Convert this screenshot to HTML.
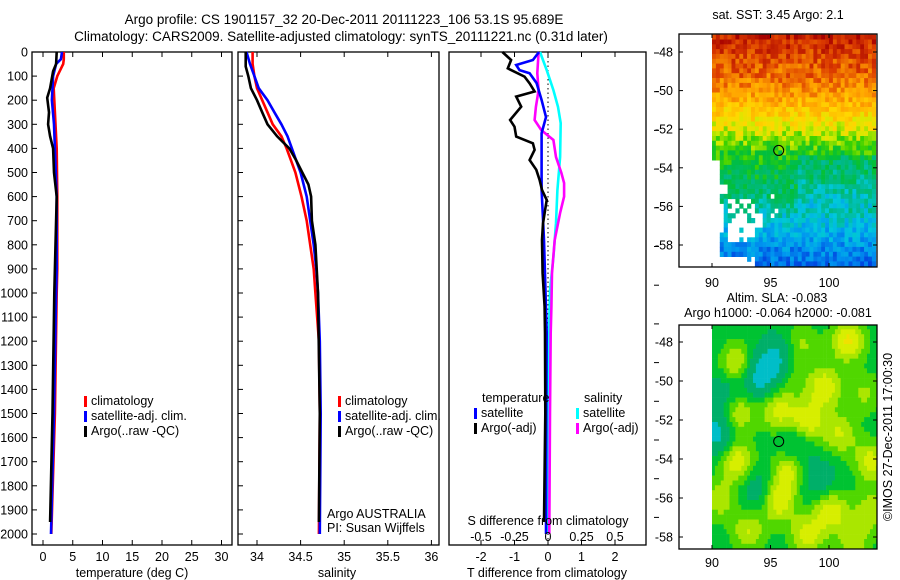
<!DOCTYPE html>
<html><head><meta charset="utf-8">
<style>
html,body{margin:0;padding:0;background:#fff;}
svg{display:block;font-family:"Liberation Sans",sans-serif;}
text{font-size:12.5px;fill:#000;}
</style></head>
<body>
<svg id="fig" width="900" height="580" viewBox="0 0 900 580">
<defs>
<clipPath id="clipA"><rect x="679" y="34" width="198" height="233"/></clipPath>
<clipPath id="clipB"><rect x="679" y="325" width="198" height="224"/></clipPath>
</defs>
<text x="344" y="24" text-anchor="middle" style="font-size:13.5px">Argo profile: CS 1901157_32 20-Dec-2011 20111223_106 53.1S 95.689E</text>
<text x="341" y="41" text-anchor="middle" style="font-size:13.5px">Climatology: CARS2009. Satellite-adjusted climatology: synTS_20111221.nc (0.31d later)</text>
<g id="g"></g>
</svg>
<script>
// ---------- data ----------
const tDepth  = [0,30,50,100,150,200,300,400,600,900,1000,1500,2000];
const tClim   = [3.5,3.5,3.4,2.4,1.8,1.9,2.1,2.3,2.4,2.4,2.3,2.0,1.4];
const tSat    = [3.2,3.0,2.2,1.7,1.6,1.5,1.85,2.0,2.3,2.3,2.2,1.85,1.35];
const argoTDepth = [0,50,80,150,190,250,300,350,400,500,600,1000,1500,1950];
const argoT      = [2.3,2.2,1.7,1.2,0.7,1.0,0.85,1.2,1.7,1.85,2.3,1.9,1.6,1.2];

const sDepth = [0,50,100,150,200,250,300,350,400,450,500,600,700,800,900,1000,1200,1500,2000];
const sClim  = [33.95,33.95,33.97,34.0,34.06,34.12,34.18,34.28,34.34,34.39,34.44,34.51,34.57,34.61,34.65,34.67,34.71,34.72,34.71];
const sSat   = [33.88,33.92,33.97,34.02,34.12,34.2,34.28,34.35,34.4,34.45,34.5,34.57,34.61,34.65,34.68,34.7,34.72,34.73,34.72];
const argoSDepth = [0,60,100,150,200,250,300,350,400,450,500,550,600,700,800,1000,1500,1950];
const argoS      = [33.87,33.87,33.9,33.93,34.0,34.06,34.12,34.23,34.37,34.45,34.52,34.59,34.62,34.63,34.67,34.7,34.72,34.71];

const dTSatDepth = [0,33,54,75,88,129,199,270,337,573,780,1166,1500,2000];
const dTSat      = [-0.27,-0.45,-0.95,-0.85,-0.55,-0.34,-0.19,-0.06,-0.19,-0.19,-0.12,-0.04,-0.05,-0.06];
const dTArgoDepth = [0,33,68,102,130,164,185,227,282,310,351,379,406,448,489,531,572,614,711,780,918,1057,1167,1500,1950];
const dTArgo      = [-1.36,-1.1,-1.2,-0.7,-0.55,-0.4,-0.95,-0.8,-1.13,-1.0,-0.95,-0.45,-0.4,-0.55,-0.35,-0.25,-0.18,-0.04,-0.15,-0.18,-0.16,-0.1,-0.09,-0.08,-0.12];
const dSSatDepth = [0,75,158,228,295,436,573,710,851,988,1200,2000];
const dSSat      = [-0.06,-0.01,0.04,0.075,0.095,0.09,0.07,0.06,0.04,0.015,0.005,0.0];
const dSArgoDepth = [0,88,158,228,282,324,365,436,502,544,600,668,780,917,1058,1166,1500,2000];
const dSArgo      = [-0.07,-0.08,-0.07,-0.09,-0.1,-0.05,0.04,0.06,0.1,0.12,0.12,0.09,0.05,0.03,0.025,0.02,0.015,0.01];

const depthTicks = [0,100,200,300,400,500,600,700,800,900,1000,1100,1200,1300,1400,1500,1600,1700,1800,1900,2000];
const tempTicks = [0,5,10,15,20,25,30];
const salTicks = ["34","34.5","35","35.5","36"];
const dTTicks = [-2,-1,0,1,2];
const dSTicks = ["-0.5","-0.25","0","0.25","0.5"];
const lonTicks = [90,95,100];
const latTicks = [-48,-50,-52,-54,-56,-58];
const sstByLat = [0.95,0.9,0.86,0.8,0.72,0.64,0.55,0.5,0.46,0.4,0.33,0.27,0.22];
const slaBlobs = [[101.5,-47.8,1],[92,-49,0.8],[99.5,-50.2,0.9],[92,-51.5,0.8],[95.5,-51.4,0.8],[98,-52,0.9],[100.8,-52.6,0.7],[92,-54,0.9],[96.5,-54.3,0.9],[103.5,-54,0.8],[95.5,-56,1],[100,-56.5,0.9],[93,-57.6,0.7],[98,-57.8,0.8],[102,-58,0.6],[103,-50.5,0.5],[90.5,-56,0.6],[103.5,-56.5,0.6],[96.5,-49.5,0.4],[97.5,-48,0.5],
  [94,-49.6,-0.9],[95.5,-48.8,-0.8],[90.3,-52.5,-0.9],[91,-50.5,-0.5],[97,-53.3,-0.6],[99,-55,-0.5],[94,-55.5,-0.5]];

// ---------- helpers ----------
const NS="http://www.w3.org/2000/svg";
const G=document.getElementById('g');
function mk(tag,attrs,parent){const e=document.createElementNS(NS,tag);for(const k in attrs)e.setAttribute(k,attrs[k]);(parent||G).appendChild(e);return e;}
function txt(x,y,s,anchor,parent){const e=mk('text',{x:x,y:y,'text-anchor':anchor||'middle'},parent);e.textContent=s;return e;}

const Y0=52, PY=0.241, YB=545;
const yD = d => Y0 + d*PY;
const xT = t => 43 + t*5.95;
const xS = s => 257 + (s-34)*87.2;
const xDT = v => 548 + v*33.5;
const xDS = v => 548 + v*134;

function frame(x0,x1,name){
  const r=mk('rect',{x:x0,y:Y0,width:x1-x0,height:YB-Y0,fill:'none',stroke:'#000','stroke-width':1.3});
  
  
}
function profile(depths,vals,xf,color,name){
  let d='';
  for(let i=0;i<depths.length;i++){d+=(i?'L':'M')+xf(vals[i]).toFixed(1)+' '+yD(depths[i]).toFixed(1);}
  const p=mk('path',{d:d,fill:'none',stroke:color,'stroke-width':2.6,'stroke-linejoin':'miter'});
  
  
}
function legendRow(x,y,color,label,name){
  const r=mk('rect',{x:x,y:y-9,width:3,height:11,fill:color});
  
  
  const t=txt(x+7,y,label,'start');
  
  
}

// ---------- temperature panel ----------
frame(32,232,'temperature-panel');
depthTicks.forEach(d=>{
  mk('line',{x1:32,x2:37,y1:yD(d),y2:yD(d),stroke:'#000'});
  const t=txt(28,yD(d)+4.5,String(d),'end');
  
  
});
tempTicks.forEach(v=>{
  mk('line',{x1:xT(v),x2:xT(v),y1:YB,y2:YB-5,stroke:'#000'});
  mk('line',{x1:xT(v),x2:xT(v),y1:Y0,y2:Y0+5,stroke:'#000'});
  const t=txt(xT(v),561,String(v));
  
  
});
profile(tDepth,tClim,xT,'#f00','temp-climatology-line');
profile(tDepth,tSat,xT,'#00f','temp-satellite-line');
profile(argoTDepth,argoT,xT,'#000','temp-argo-line');
{const t=txt(132,577,'temperature (deg C)');}
legendRow(84,405,'#f00','climatology','legend-climatology');
legendRow(84,420,'#00f','satellite-adj. clim.','legend-satellite-adj');
legendRow(84,435,'#000','Argo(..raw -QC)','legend-argo');

// ---------- salinity panel ----------
frame(238,439,'salinity-panel');
depthTicks.forEach(d=>{mk('line',{x1:238,x2:243,y1:yD(d),y2:yD(d),stroke:'#000'});});
salTicks.forEach(v=>{
  const x=xS(parseFloat(v));
  mk('line',{x1:x,x2:x,y1:YB,y2:YB-5,stroke:'#000'});
  mk('line',{x1:x,x2:x,y1:Y0,y2:Y0+5,stroke:'#000'});
  const t=txt(x,561,v);
  
  
});
profile(sDepth,sClim,xS,'#f00','sal-climatology-line');
profile(sDepth,sSat,xS,'#00f','sal-satellite-line');
profile(argoSDepth,argoS,xS,'#000','sal-argo-line');
{const t=txt(337,577,'salinity');}
legendRow(338,405,'#f00','climatology','legend-sal-climatology');
legendRow(338,420,'#00f','satellite-adj. clim.','legend-sal-satellite-adj');
legendRow(338,435,'#000','Argo(..raw -QC)','legend-sal-argo');
{const t=txt(327,518,'Argo AUSTRALIA','start');}
{const t=txt(327,532,'PI: Susan Wijffels','start');}

// ---------- difference panel ----------
frame(449,646,'difference-panel');
mk('line',{x1:548,x2:548,y1:Y0,y2:YB,stroke:'#000','stroke-dasharray':'1.5 3','stroke-width':1});
dTTicks.forEach(v=>{
  mk('line',{x1:xDT(v),x2:xDT(v),y1:YB,y2:YB-5,stroke:'#000'});
  mk('line',{x1:xDT(v),x2:xDT(v),y1:Y0,y2:Y0+5,stroke:'#000'});
  const t=txt(xDT(v),561,String(v));
  
  
});
for(let k=0;k<13;k++){const y=53+k*38.7;if(y>YB)break;mk('line',{x1:654,x2:659,y1:y,y2:y,stroke:'#000'});}
profile(dSSatDepth,dSSat,xDS,'#0ff','s-diff-satellite-line');
profile(dSArgoDepth,dSArgo,xDS,'#f0f','s-diff-argo-line');
profile(dTSatDepth,dTSat,xDT,'#00f','t-diff-satellite-line');
profile(dTArgoDepth,dTArgo,xDT,'#000','t-diff-argo-line');
{const t=txt(547,577,'T difference from climatology');}
{const t=txt(548,525,'S difference from climatology');}
dSTicks.forEach(v=>{
  const t=txt(xDS(parseFloat(v)),541,v);
  
  
});
{const t=txt(482,402,'temperature','start');}
{const t=txt(584,402,'salinity','start');}
legendRow(474,417,'#00f','satellite','legend-t-satellite');
legendRow(474,432,'#000','Argo(-adj)','legend-t-argo');
legendRow(576,417,'#0ff','satellite','legend-s-satellite');
legendRow(576,432,'#f0f','Argo(-adj)','legend-s-argo');

// ---------- maps ----------
function hash(i,j){let h=(i*374761393+j*668265263)|0;h=(h^(h>>>13))*1274126177|0;return ((h^(h>>>16))>>>0)/4294967296;}
const stops=[[0,[0,0,130]],[0.15,[0,50,220]],[0.28,[0,150,240]],[0.36,[0,200,220]],[0.42,[0,185,140]],[0.5,[0,190,60]],[0.57,[60,210,0]],[0.63,[210,235,0]],[0.7,[255,215,0]],[0.8,[255,160,0]],[0.9,[220,60,0]],[1,[165,0,0]]];
function cmap(v){v=Math.max(0,Math.min(1,v));for(let i=1;i<stops.length;i++){if(v<=stops[i][0]){const a=stops[i-1],b=stops[i],f=(v-a[0])/(b[0]-a[0]);return 'rgb('+a[1].map((c,k)=>Math.round(c+(b[1][k]-c)*f)).join(',')+')';}}return 'rgb(165,0,0)';}

function mapAxes(x0,x1,y0,y1,lonF,latF,name,labelY){
  const r=mk('rect',{x:x0,y:y0,width:x1-x0,height:y1-y0,fill:'none',stroke:'#000','stroke-width':1.3});
  
  
  lonTicks.forEach(v=>{
    mk('line',{x1:lonF(v),x2:lonF(v),y1:y0,y2:y0+4,stroke:'#000'});
    mk('line',{x1:lonF(v),x2:lonF(v),y1:y1,y2:y1-4,stroke:'#000'});
    const t=txt(lonF(v),labelY,String(v));
    
    
  });
  latTicks.forEach(v=>{
    mk('line',{x1:x0,x2:x0+4,y1:latF(v),y2:latF(v),stroke:'#000'});
    mk('line',{x1:x1,x2:x1-4,y1:latF(v),y2:latF(v),stroke:'#000'});
    const t=txt(x0-6,latF(v)+4.5,String(v),'end');
    
    
  });
}
const lon = v => 712 + (v-90)*11.7;
// SST map
const latA = v => 52 + (-48-v)*19.3;
{
  const grp=mk('g',{'clip-path':'url(#clipA)'});
  
  
  for(let i=0;i<42;i++){
    const lo=90+i/3;
    for(let j=0;j<49;j++){
      const la=-47.1-j*0.25;
      const h=hash(i,j);
      if(la<-53.5 && lo<90.6) continue;
      if(la<-54.6 && la>-55.3 && lo<91.3) continue;
      if(la<-55.8 && la>-57.2 && lo<91) continue;
      if(la<-55.5 && la>-57.8 && lo>91.2 && lo<93.4 && h<0.75) continue;
      if(la<-56.2 && la>-57 && lo>93.4 && lo<94.2) continue;
      if(la<-55.2 && la>-56.6 && lo>94.8 && lo<96 && h<0.5) continue;
      if(la<-58.4 && lo<93.6 && h<0.85) continue;
      const idx=Math.min(12,Math.max(0,(-47-la)));
      const k=Math.floor(idx),f=idx-k;
      let v=sstByLat[k]+(sstByLat[Math.min(12,k+1)]-sstByLat[k])*f;
      if(la<-53.3 && la>-56 && lo>97) v-=0.05;
      v+= (h-0.5)*0.12;
      mk('rect',{x:lon(lo).toFixed(1),y:latA(la).toFixed(1),width:4.2,height:5.2,fill:cmap(v)},grp);
    }
  }
}
mapAxes(679,877,34,267,lon,latA,'sst-map-frame',287);
{const c=mk('circle',{cx:lon(95.7),cy:latA(-53.1),r:5,fill:'none',stroke:'#000','stroke-width':1});}
{const t=txt(778,19,'sat. SST: 3.45 Argo: 2.1');}

// SLA map
const latB = v => 342 + (-48-v)*19.5;
{
  const grp=mk('g',{'clip-path':'url(#clipB)'});
  
  
  for(let i=0;i<57;i++){
    const lo=90+i*0.25;
    for(let j=0;j<50;j++){
      const la=-47.1-j*0.25;
      let s=0;
      slaBlobs.forEach(b=>{const dx=(lo-b[0])/1.5,dy=(la-b[1])/1.1;s+=b[2]*Math.exp(-(dx*dx+dy*dy));});
      let col;
      if(s<-0.6) col='rgb(0,190,200)';
      else if(s<-0.1) col='rgb(0,175,105)';
      else if(s<0.2) col='rgb(0,195,50)';
      else if(s<0.45) col='rgb(80,215,0)';
      else if(s<0.7) col='rgb(170,230,0)';
      else if(s<0.95) col='rgb(215,238,0)';
      else col='rgb(240,225,0)';
      mk('rect',{x:lon(lo).toFixed(1),y:latB(la).toFixed(1),width:3.2,height:5.2,fill:col},grp);
    }
  }
}
mapAxes(679,877,325,549,lon,latB,'sla-map-frame',567);
{const c=mk('circle',{cx:lon(95.7),cy:latB(-53.1),r:5,fill:'none',stroke:'#000','stroke-width':1});}
{const t=txt(777,302,'Altim. SLA: -0.083');}
{const t=txt(778,317,'Argo h1000: -0.064 h2000: -0.081');}
{const t=txt(0,0,'©IMOS 27-Dec-2011 17:00:30');t.setAttribute('transform','translate(892,437) rotate(-90)');}
</script>
</body></html>
